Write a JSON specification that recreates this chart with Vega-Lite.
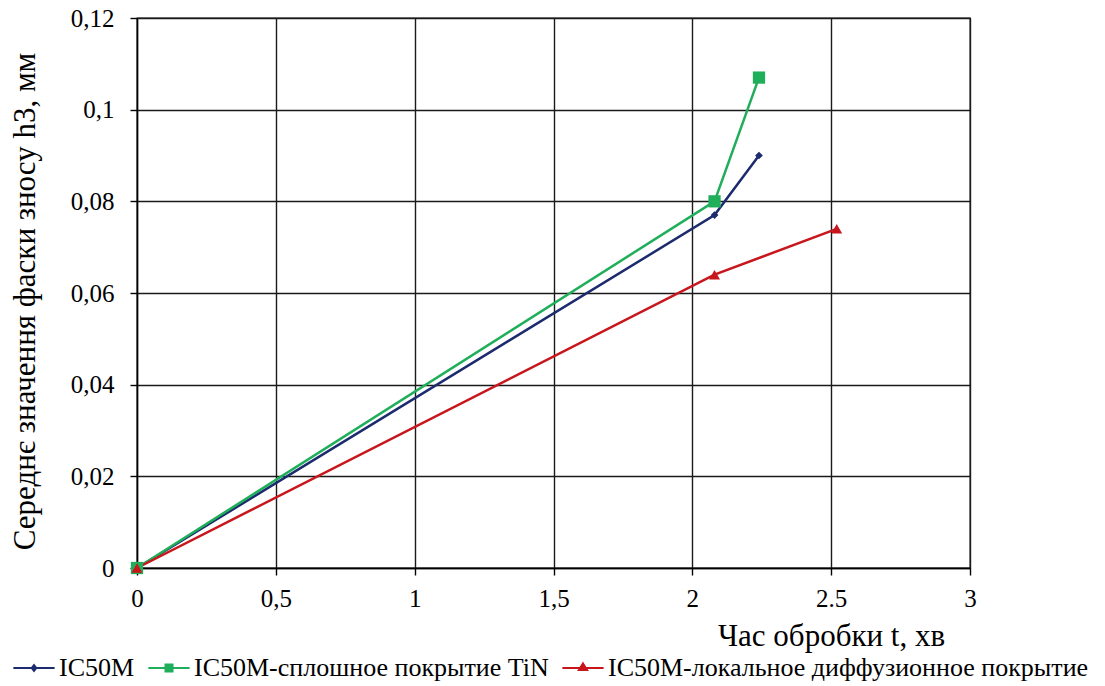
{
  "$schema": "https://vega.github.io/schema/vega-lite/v6.json",
  "width": 833,
  "height": 550,
  "autosize": "none",
  "padding": {"left": 137, "top": 18, "right": 135, "bottom": 118},
  "background": "white",
  "config": {
    "font": "Liberation Serif, DejaVu Serif, serif",
    "view": {"stroke": "black", "strokeWidth": 1.3},
    "text": {"font": "Liberation Serif, DejaVu Serif, serif"},
    "axis": {
      "labelFont": "Liberation Serif, DejaVu Serif, serif",
      "titleFont": "Liberation Serif, DejaVu Serif, serif",
      "labelFontSize": 25,
      "titleFontSize": 31,
      "titleFontWeight": "normal",
      "labelColor": "black",
      "titleColor": "black",
      "domainColor": "black",
      "tickColor": "black",
      "gridColor": "#1a1a1a",
      "gridOpacity": 1,
      "gridWidth": 1.4,
      "domainWidth": 1.4,
      "tickWidth": 1.4,
      "tickSize": 7,
      "labelFlush": false
    },
    "legend": {
      "labelFont": "Liberation Serif, DejaVu Serif, serif",
      "titleFont": "Liberation Serif, DejaVu Serif, serif"
    }
  },
  "data": {
    "values": [
      {"t": 0, "h": 0, "series": "IC50M"},
      {"t": 2.08, "h": 0.077, "series": "IC50M"},
      {"t": 2.24, "h": 0.09, "series": "IC50M"},
      {"t": 0, "h": 0, "series": "IC50M-сплошное покрытие TiN"},
      {"t": 2.08, "h": 0.08, "series": "IC50M-сплошное покрытие TiN"},
      {"t": 2.24, "h": 0.107, "series": "IC50M-сплошное покрытие TiN"},
      {"t": 0, "h": 0, "series": "IC50М-локальное диффузионное  покрытие"},
      {"t": 2.08, "h": 0.064, "series": "IC50М-локальное диффузионное  покрытие"},
      {"t": 2.52, "h": 0.074, "series": "IC50М-локальное диффузионное  покрытие"}
    ]
  },
  "encoding": {
    "x": {
      "field": "t",
      "type": "quantitative",
      "scale": {"domain": [0, 3], "nice": false},
      "axis": {
        "values": [0, 0.5, 1, 1.5, 2, 2.5, 3],
        "labelExpr": "datum.value === 2.5 ? '2.5' : replace(format(datum.value, '~g'), '.', ',')",
        "labelPadding": 11,
        "title": "Час обробки t, хв",
        "titleX": 694,
        "titleY": 68,
        "titleAlign": "center",
        "titleBaseline": "middle"
      }
    },
    "y": {
      "field": "h",
      "type": "quantitative",
      "scale": {"domain": [0, 0.12], "nice": false},
      "axis": {
        "values": [0, 0.02, 0.04, 0.06, 0.08, 0.1, 0.12],
        "labelExpr": "replace(format(datum.value, '.2~f'), '.', ',')",
        "labelPadding": 16,
        "title": "Середнє значення фаски зносу h3, мм",
        "titleX": -112,
        "titleY": 283,
        "titleAlign": "center",
        "titleBaseline": "middle",
        "titleAngle": -90
      }
    },
    "color": {
      "field": "series",
      "type": "nominal",
      "scale": {
        "domain": ["IC50M", "IC50M-сплошное покрытие TiN", "IC50М-локальное диффузионное  покрытие"],
        "range": ["#1c2a6e", "#1fae5a", "#c8161d"]
      },
      "legend": {
        "orient": "none",
        "legendX": -125,
        "legendY": 628,
        "direction": "horizontal",
        "title": null,
        "labelFontSize": 26,
        "labelColor": "black",
        "labelLimit": 700,
        "labelOffset": 3,
        "columnPadding": 9,
        "symbolSize": 1700,
        "symbolStrokeWidth": 2,
        "symbolType": "stroke",
        "encode": {
          "symbols": {
            "update": {
              "shape": {"signal": "datum.value === 'IC50M' ? 'M-1,0H1M0,-0.14L0.11,0L0,0.14L-0.11,0Z' : datum.value === 'IC50M-сплошное покрытие TiN' ? 'M-1,0H1M-0.17,-0.17H0.17V0.17H-0.17Z' : 'M-1,0H1M0,-0.22L0.2,0.1H-0.2Z'"},
              "stroke": {"signal": "scale('color', datum.value)"},
              "fill": {"signal": "scale('color', datum.value)"},
              "strokeWidth": {"value": 2},
              "opacity": {"value": 1}
            }
          }
        }
      }
    }
  },
  "layer": [
    {
      "mark": {"type": "line", "strokeWidth": 2.5}
    },
    {
      "transform": [{"filter": "datum.series === 'IC50M'"}],
      "mark": {"type": "point", "filled": true, "opacity": 1, "shape": "diamond", "size": 60}
    },
    {
      "transform": [{"filter": "datum.series === 'IC50M-сплошное покрытие TiN'"}],
      "mark": {"type": "point", "filled": true, "opacity": 1, "shape": "square", "size": 150}
    },
    {
      "transform": [{"filter": "datum.series === 'IC50М-локальное диффузионное  покрытие'"}],
      "mark": {"type": "point", "filled": true, "opacity": 1, "shape": "triangle-up", "size": 120}
    }
  ]
}
